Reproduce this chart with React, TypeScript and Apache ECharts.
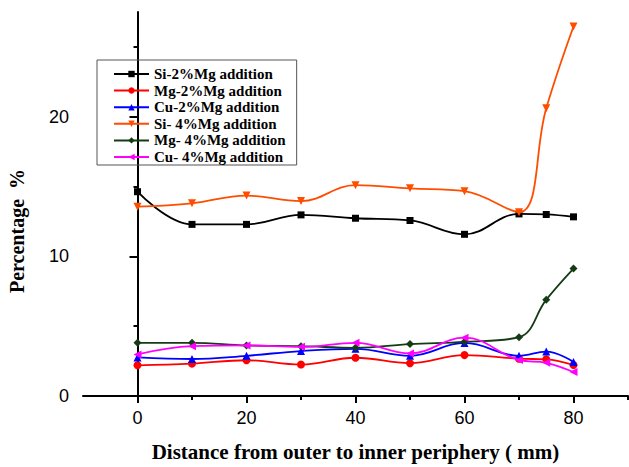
import React, { useEffect, useRef } from "react";
import * as echarts from "echarts";

const distances = [0, 10, 20, 30, 40, 50, 60, 70, 75, 80];
const si2 = [14.63, 12.29, 12.29, 12.97, 12.73, 12.57, 11.58, 13.04, 13.0, 12.83];
const mg2 = [2.2, 2.32, 2.56, 2.25, 2.74, 2.35, 2.93, 2.67, 2.63, 2.22];
const cu2 = [2.76, 2.65, 2.88, 3.22, 3.38, 2.88, 3.8, 2.88, 3.18, 2.44];
const si4 = [13.56, 13.8, 14.35, 13.96, 15.1, 14.87, 14.67, 13.16, 20.6, 26.46];
const mg4 = [3.81, 3.81, 3.62, 3.57, 3.45, 3.72, 3.88, 4.21, 6.9, 9.13];
const cu4 = [2.98, 3.57, 3.62, 3.52, 3.81, 3.05, 4.18, 2.58, 2.38, 1.72];

const seriesNames = [
  "Si-2%Mg addition",
  "Mg-2%Mg addition",
  "Cu-2%Mg addition",
  "Si- 4%Mg addition",
  "Mg- 4%Mg addition",
  "Cu- 4%Mg addition",
];
const xMajorTicks = [0, 20, 40, 60, 80];
const xMinorTicks = [10, 30, 50, 70, 90];
const yMajorTicks = [0, 10, 20];
const yMinorTicks = [5, 15, 25];

const xTitle = "Distance from outer to inner periphery ( mm)";
const yTitle = "Percentage  %";

const SERIF = "'Liberation Serif', 'Times New Roman', serif";
const SANS = "'Liberation Sans', Arial, sans-serif";

export default function App() {
  const ref = useRef<HTMLDivElement>(null);
  useEffect(() => {
    if (!ref.current) return;
    const chart = echarts.init(ref.current, null, { renderer: "svg" });
    const values = [si2, mg2, cu2, si4, mg4, cu4];
    const colors = ["#000000", "#ff0000", "#0000ff", "#ff4d00", "#143c14", "#ff00ff"];
    const symbols = ["rect", "circle", "triangle", "triangle", "diamond", "triangle"];
    const rotations = [0, 0, 0, 180, 0, 90];
    const sizes = [7, 8, 8, 8, 8, 8];
    const series = values.map((vals, i) => ({
      name: seriesNames[i],
      type: "line",
      data: distances.map((d, j) => [d, vals[j]]),
      smooth: 0.4,
      symbol: symbols[i],
      symbolRotate: rotations[i],
      symbolSize: sizes[i],
      showAllSymbol: true,
      lineStyle: { color: colors[i], width: 1.8 },
      itemStyle: { color: colors[i] },
      z: 2 + i,
    }));
    const axisLine = { show: true, lineStyle: { color: "#000", width: 2 } };
    chart.setOption({
      animation: false,
      backgroundColor: "#ffffff",
      grid: { left: 83, top: 12, right: 1, bottom: 68 },
      legend: {
        left: 97,
        top: 60,
        orient: "vertical",
        data: seriesNames,
        itemWidth: 35,
        itemHeight: 8,
        itemGap: 0.6,
        padding: [6, 11, 0, 16],
        borderColor: "#555",
        borderWidth: 1,
        textStyle: {
          fontFamily: SERIF,
          fontWeight: "bold",
          fontSize: 15,
          color: "#000",
          lineHeight: 16,
        },
      },
      xAxis: [
        {
          type: "value",
          min: -10,
          max: 90,
          axisLine,
          axisTick: { show: true, customValues: xMajorTicks, length: 7, lineStyle: { color: "#000", width: 2 } },
          axisLabel: {
            customValues: xMajorTicks,
            margin: 13,
            fontFamily: SANS,
            fontSize: 18,
            color: "#000",
          },
          splitLine: { show: false },
          name: xTitle,
          nameLocation: "middle",
          nameGap: 45,
          nameTextStyle: {
            fontFamily: SERIF,
            fontWeight: "bold",
            fontSize: 21,
            color: "#000",
          },
        },
        {
          type: "value",
          min: -10,
          max: 90,
          position: "bottom",
          axisLine: { show: false },
          axisTick: { show: true, customValues: xMinorTicks, length: 4, lineStyle: { color: "#000", width: 2 } },
          axisLabel: { show: false },
          splitLine: { show: false },
        },
      ],
      yAxis: [
        {
          type: "value",
          min: 0,
          max: 27.5,
          axisLine,
          axisTick: { show: true, customValues: yMajorTicks, length: 8, lineStyle: { color: "#000", width: 2 } },
          axisLabel: {
            customValues: yMajorTicks,
            margin: 14,
            fontFamily: SANS,
            fontSize: 18,
            color: "#000",
          },
          splitLine: { show: false },
        },
        {
          type: "value",
          min: 0,
          max: 27.5,
          position: "left",
          axisLine: { show: false },
          axisTick: { show: true, customValues: yMinorTicks, length: 4, lineStyle: { color: "#000", width: 2 } },
          axisLabel: { show: false },
          splitLine: { show: false },
        },
      ],
      graphic: [
        {
          type: "text",
          x: 17,
          y: 231,
          rotation: Math.PI / 2,
          style: {
            text: yTitle,
            fontFamily: SERIF,
            fontWeight: "bold",
            fontSize: 20,
            fill: "#000",
            textAlign: "center",
            textVerticalAlign: "middle",
          },
        },
      ],
      series,
    });
    return () => chart.dispose();
  }, []);
  return (
    <div
      ref={ref}
      style={{ position: "fixed", left: 0, top: 0, width: 629, height: 467, background: "#fff" }}
    />
  );
}
